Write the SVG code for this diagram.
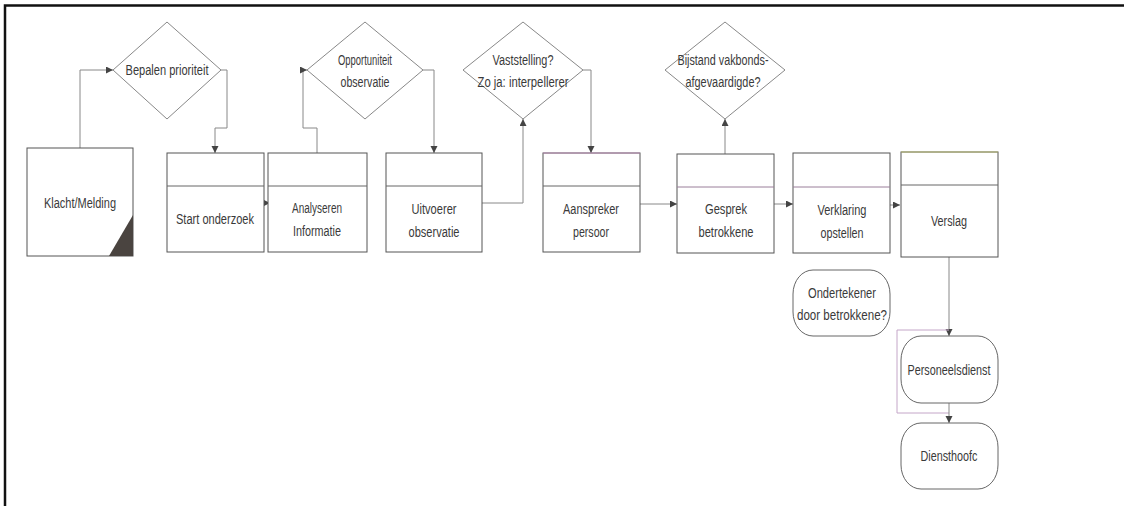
<svg xmlns="http://www.w3.org/2000/svg" width="1124" height="506" viewBox="0 0 1124 506">
<style>
.box{fill:#fff;stroke:#555;stroke-width:1}
.div{stroke:#666;stroke-width:1}
.dia{fill:#fff;stroke:#888;stroke-width:1}
.term{fill:#fff;stroke:#666;stroke-width:1}
.t{font-family:"Liberation Sans",Arial,sans-serif;font-size:14px;fill:#3a3a3a;text-anchor:middle}
.c{fill:none;stroke:#888;stroke-width:1}
.ca{fill:none;stroke:#888;stroke-width:1;marker-end:url(#ah)}
</style>
<defs>
<marker id="ah" markerUnits="userSpaceOnUse" markerWidth="8" markerHeight="8" refX="7" refY="3.5" orient="auto">
<path d="M0,0 L7,3.5 L0,7 Z" fill="#444"/>
</marker>
</defs>
<rect width="1124" height="506" fill="#fff"/>
<path d="M5,506 V5.5 H1124" fill="none" stroke="#111" stroke-width="2.5"/>

<g id="connectors">
<path class="ca" d="M80,148 V70 H113"/>
<path class="ca" d="M221,70 H227 V128 H215 V153"/>
<path class="ca" d="M262,203 H270"/>
<path class="ca" d="M317,153 V128 H303 V70 H307"/>
<path class="ca" d="M423,70 H434 V153"/>
<path class="ca" d="M482,203 H523 V119"/>
<path class="ca" d="M583,70 H591 V153"/>
<path class="ca" d="M640,204 H677"/>
<path class="ca" d="M725,154 V119"/>
<path class="ca" d="M774,204 H793"/>
<path class="ca" d="M890,205 H900"/>
<path class="ca" d="M949,257 V336"/>
<path fill="none" stroke="#c4a6c8" stroke-width="1" d="M949,330 H897 V413 H949"/>
<path class="ca" d="M949,403 V423"/>
</g>

<g id="klacht">
<rect class="box" x="27" y="148" width="106" height="108"/>
<polygon points="133,215 133,256 109,256" fill="#4a4440"/>
<text class="t" x="80" y="208" textLength="72" lengthAdjust="spacingAndGlyphs">Klacht/Melding</text>
</g>

<g id="bepalen">
<polygon class="dia" points="167,22 221,70 167,119 113,70"/>
<text class="t" x="167" y="75" textLength="83" lengthAdjust="spacingAndGlyphs">Bepalen prioriteit</text>
</g>

<g id="start">
<rect class="box" x="167" y="153" width="97" height="99"/>
<line class="div" x1="167" y1="186" x2="264" y2="186"/>
<text class="t" x="215" y="224" textLength="78" lengthAdjust="spacingAndGlyphs">Start onderzoek</text>
</g>

<g id="analyseren">
<rect class="box" x="268" y="153" width="99" height="99"/>
<line class="div" x1="268" y1="186" x2="367" y2="186"/>
<text class="t" x="317" y="213" textLength="50" lengthAdjust="spacingAndGlyphs">Analyseren</text>
<text class="t" x="317" y="236" textLength="48" lengthAdjust="spacingAndGlyphs">Informatie</text>
</g>

<g id="opportuniteit">
<polygon class="dia" points="365,22 423,70 365,119 307,70"/>
<text class="t" x="365" y="65" textLength="54" lengthAdjust="spacingAndGlyphs">Opportuniteit</text>
<text class="t" x="365" y="87" textLength="49" lengthAdjust="spacingAndGlyphs">observatie</text>
</g>

<g id="uitvoerer">
<rect class="box" x="386" y="153" width="96" height="99"/>
<line class="div" x1="386" y1="186" x2="482" y2="186"/>
<text class="t" x="434" y="214" textLength="45" lengthAdjust="spacingAndGlyphs">Uitvoerer</text>
<text class="t" x="434" y="237" textLength="51" lengthAdjust="spacingAndGlyphs">observatie</text>
</g>

<g id="vaststelling">
<polygon class="dia" points="523,22 583,70 523,119 463,70"/>
<text class="t" x="523" y="65" textLength="61" lengthAdjust="spacingAndGlyphs">Vaststelling?</text>
<text class="t" x="523" y="87" textLength="91" lengthAdjust="spacingAndGlyphs">Zo ja: interpellerer</text>
</g>

<g id="aanspreker">
<rect class="box" x="543" y="153" width="97" height="99"/>
<line x1="543" y1="153" x2="640" y2="153" stroke="#b98cb4" stroke-width="1"/>
<line class="div" x1="543" y1="186" x2="640" y2="186"/>
<text class="t" x="591" y="214" textLength="56" lengthAdjust="spacingAndGlyphs">Aanspreker</text>
<text class="t" x="591" y="237" textLength="36" lengthAdjust="spacingAndGlyphs">persoor</text>
</g>

<g id="gesprek">
<rect class="box" x="677" y="154" width="97" height="99"/>
<line x1="677" y1="187" x2="774" y2="187" stroke="#9a7f9a" stroke-width="1"/>
<text class="t" x="726" y="214" textLength="42" lengthAdjust="spacingAndGlyphs">Gesprek</text>
<text class="t" x="726" y="237" textLength="55" lengthAdjust="spacingAndGlyphs">betrokkene</text>
</g>

<g id="bijstand">
<polygon class="dia" points="725,22 785,70 725,119 665,70"/>
<text class="t" x="723" y="65" textLength="91" lengthAdjust="spacingAndGlyphs">Bijstand vakbonds-</text>
<text class="t" x="723" y="87" textLength="75" lengthAdjust="spacingAndGlyphs">afgevaardigde?</text>
</g>

<g id="verklaring">
<rect class="box" x="793" y="153" width="97" height="100"/>
<line x1="793" y1="187" x2="890" y2="187" stroke="#9a7f9a" stroke-width="1"/>
<text class="t" x="842" y="215" textLength="49" lengthAdjust="spacingAndGlyphs">Verklaring</text>
<text class="t" x="842" y="238" textLength="43" lengthAdjust="spacingAndGlyphs">opstellen</text>
</g>

<g id="verslag">
<rect class="box" x="901" y="152" width="97" height="105"/>
<line x1="901" y1="152" x2="998" y2="152" stroke="#b5b870" stroke-width="1"/>
<line class="div" x1="901" y1="185" x2="998" y2="185"/>
<text class="t" x="949" y="226" textLength="36" lengthAdjust="spacingAndGlyphs">Verslag</text>
</g>

<g id="ondertekener">
<rect class="term" x="793" y="270" width="97" height="66" rx="20" ry="24"/>
<text class="t" x="842" y="298" textLength="68" lengthAdjust="spacingAndGlyphs">Ondertekener</text>
<text class="t" x="842" y="320" textLength="90" lengthAdjust="spacingAndGlyphs">door betrokkene?</text>
</g>

<g id="personeelsdienst">
<rect class="term" x="901" y="336" width="97" height="67" rx="20" ry="24"/>
<text class="t" x="949" y="375" textLength="83" lengthAdjust="spacingAndGlyphs">Personeelsdienst</text>
</g>

<g id="diensthoofd">
<rect class="term" x="901" y="423" width="97" height="66" rx="20" ry="24"/>
<text class="t" x="949" y="461" textLength="57" lengthAdjust="spacingAndGlyphs">Diensthoofc</text>
</g>
</svg>
